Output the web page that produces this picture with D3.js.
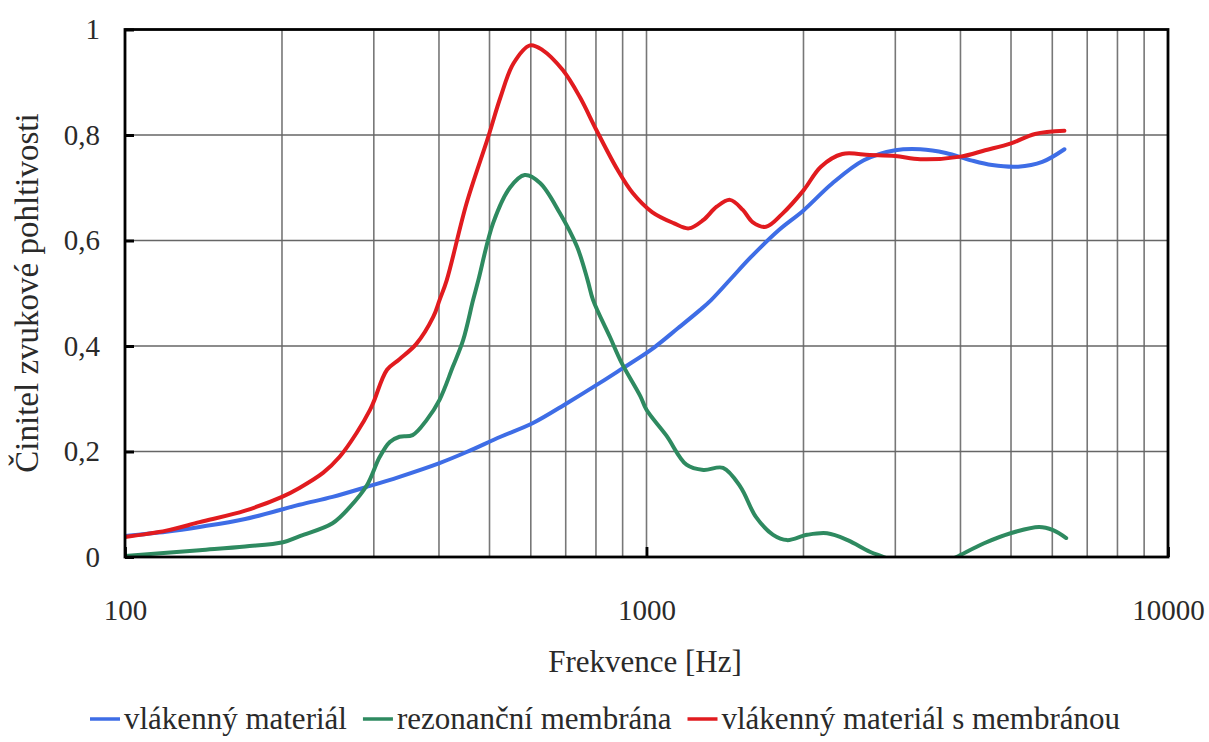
<!DOCTYPE html>
<html><head><meta charset="utf-8">
<script src="https://cdn.jsdelivr.net/npm/d3@7"></script>
<style>body{margin:0;background:#fff}svg{display:block}</style>
</head><body>
<svg id="c" width="1209" height="742"></svg>
<script>
// ---- data ----
const blueFreq = [100,120,139,170,216,250,291,336,401,452,525,606,705,814,901,1018,1150,1266,1330,1450,1580,1790,2000,2270,2610,3000,3350,3750,4190,4600,5160,5740,6330];
const blueVals = [0.040,0.048,0.057,0.072,0.099,0.114,0.133,0.152,0.178,0.199,0.228,0.254,0.292,0.330,0.358,0.392,0.434,0.468,0.487,0.527,0.567,0.619,0.657,0.708,0.752,0.771,0.773,0.766,0.752,0.743,0.740,0.749,0.773];

const greenFreq = [100,139,170,201,217,250,270,291,308,322,336,356,379,401,425,445,465,476,508,547,584,625,682,736,771,790,851,896,973,1000,1092,1193,1286,1402,1514,1621,1749,1860,2033,2220,2430,2680,2850,3100,3400,3700,3930,4440,4990,5660,6020,6380];
const greenVals = [0.002,0.013,0.020,0.028,0.040,0.064,0.095,0.136,0.190,0.218,0.228,0.231,0.260,0.298,0.360,0.411,0.487,0.525,0.633,0.700,0.724,0.709,0.652,0.588,0.525,0.487,0.417,0.368,0.305,0.279,0.230,0.175,0.165,0.169,0.133,0.076,0.042,0.032,0.042,0.045,0.032,0.010,0.000,-0.015,-0.022,-0.012,0.000,0.026,0.045,0.057,0.051,0.036];

const redFreq = [100,120,139,170,200,216,240,258,278,295,300,318,336,362,390,401,414,452,497,525,556,598,632,691,745,801,880,941,1025,1127,1205,1286,1363,1446,1530,1597,1695,1819,2000,2160,2374,2680,3000,3350,4000,4460,5000,5560,6330];
const redVals = [0.038,0.050,0.066,0.088,0.114,0.131,0.160,0.190,0.235,0.279,0.295,0.355,0.375,0.404,0.455,0.487,0.525,0.671,0.796,0.872,0.936,0.970,0.961,0.923,0.872,0.810,0.734,0.690,0.654,0.633,0.623,0.639,0.664,0.677,0.658,0.635,0.626,0.650,0.695,0.740,0.764,0.762,0.760,0.754,0.759,0.771,0.784,0.802,0.808];

const seriesNames = ["vlákenný materiál","rezonanční membrána","vlákenný materiál s membránou"];
const seriesColors = ["#3e6de6","#2e8a60","#e11b1f"];
const xTickValues = [100,1000,10000];
const xTickLabels = ["100","1000","10000"];
const xGridValues = [200,300,400,500,600,700,800,900,1000,2000,3000,4000,5000,6000,7000,8000,9000];
const yTickValues = [0,0.2,0.4,0.6,0.8,1];
const yTickLabels = ["0","0,2","0,4","0,6","0,8","1"];
const yGridValues = [0.2,0.4,0.6,0.8];
const xTitle = "Frekvence [Hz]";
const yTitle = "Činitel zvukové pohltivosti";

// ---- layout ----
const L = 125, R = 1168, T = 29.5, B = 557;
const svg = d3.select("#c");
const x = d3.scaleLog().domain([100,10000]).range([L,R]);
const y = d3.scaleLinear().domain([0,1]).range([B,T]);
const serif = "'Liberation Serif','Times New Roman',serif";
const ink = "#2a2a2a";

svg.append("defs").append("clipPath").attr("id","clip")
  .append("rect").attr("x",L).attr("y",T).attr("width",R-L).attr("height",B-T);

// grid
svg.append("g").selectAll("line").data(xGridValues).join("line")
  .attr("x1",d=>x(d)).attr("x2",d=>x(d)).attr("y1",T).attr("y2",B)
  .attr("stroke","#777").attr("stroke-width",1.6);
svg.append("g").selectAll("line").data(yGridValues).join("line")
  .attr("x1",L).attr("x2",R).attr("y1",d=>y(d)).attr("y2",d=>y(d))
  .attr("stroke","#666").attr("stroke-width",1.6);

// series
const series = [
  {f: blueFreq, v: blueVals},
  {f: greenFreq, v: greenVals},
  {f: redFreq, v: redVals}
];
const line = d3.line().x(d=>x(d[0])).y(d=>y(d[1])).curve(d3.curveCatmullRom.alpha(0.5));
const gLines = svg.append("g").attr("clip-path","url(#clip)");
series.forEach((s,i)=>{
  gLines.append("path").datum(s.f.map((f,j)=>[f,s.v[j]]))
    .attr("d",line).attr("fill","none").attr("stroke",seriesColors[i])
    .attr("stroke-width",4).attr("stroke-linejoin","round").attr("stroke-linecap","round");
});

// frame
svg.append("rect").attr("x",L).attr("y",T).attr("width",R-L).attr("height",B-T)
  .attr("fill","none").attr("stroke","#000").attr("stroke-width",2.8);

// axes
const yAxis = d3.axisLeft(y).tickValues(yTickValues)
  .tickFormat((d,i)=>yTickLabels[i]).tickSize(-9).tickPadding(25);
const gy = svg.append("g").attr("transform",`translate(${L},0)`).call(yAxis);
gy.select(".domain").remove();
gy.selectAll(".tick line").attr("stroke","#000").attr("stroke-width",3);
gy.selectAll(".tick text").attr("font-family",serif).attr("font-size",29).attr("fill",ink);

const xAxis = d3.axisBottom(x).tickValues(xTickValues)
  .tickFormat((d,i)=>xTickLabels[i]).tickSize(-10).tickPadding(42);
const gx = svg.append("g").attr("transform",`translate(0,${B})`).call(xAxis);
gx.select(".domain").remove();
gx.selectAll(".tick line").attr("stroke","#000").attr("stroke-width",2.8);
gx.selectAll(".tick text").attr("font-family",serif).attr("font-size",29).attr("fill",ink);

// titles
svg.append("text").attr("x",645).attr("y",672).attr("text-anchor","middle")
  .attr("font-family",serif).attr("font-size",31).attr("fill",ink).text(xTitle);
svg.append("text").attr("transform","translate(38,293) rotate(-90)").attr("text-anchor","middle")
  .attr("font-family",serif).attr("font-size",33).attr("fill",ink).text(yTitle);

// legend
const ly = 719;
const legFont = 31;
const gl = svg.append("g");
let cx = 90;
seriesNames.forEach((name,i)=>{
  gl.append("line").attr("x1",cx).attr("x2",cx+30).attr("y1",ly).attr("y2",ly)
    .attr("stroke",seriesColors[i]).attr("stroke-width",3.5);
  const t = gl.append("text").attr("x",cx+34).attr("y",ly+10)
    .attr("font-family",serif).attr("font-size",legFont).attr("fill",ink)
    .text(name);
  cx = cx + 34 + t.node().getComputedTextLength() + 16;
});
</script>
</body></html>
